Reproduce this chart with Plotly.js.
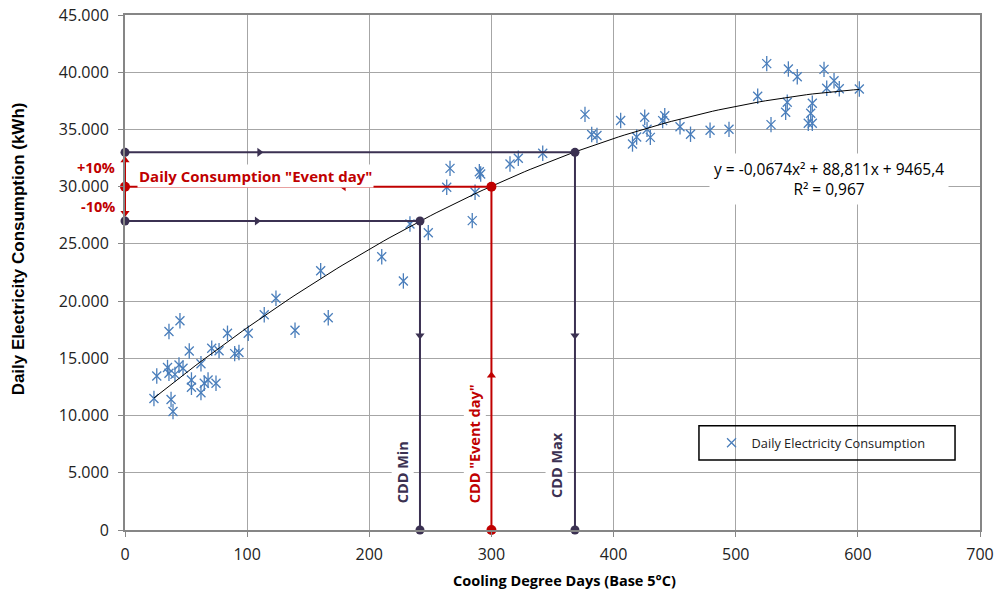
<!DOCTYPE html>
<html>
<head>
<meta charset="utf-8">
<script src="https://cdn.plot.ly/plotly-3.0.1.min.js"></script>
<style>html,body{margin:0;padding:0;background:#fff;}#chart{width:995px;height:593px;}</style>
</head>
<body>
<div id="chart"></div>
<script>
// ---- Data ----
const cdd = [23.7, 26.0, 34.8, 36.0, 37.7, 39.3, 40.9, 44.2, 47.5, 36.0, 45.0, 52.6, 62.2, 54.4, 54.4, 62.2, 64.9, 68.0, 74.5, 71.0, 77.0, 83.9, 89.8, 93.3, 100.9, 114.0, 123.6, 139.2, 166.4,
  160.2, 210.2, 227.9, 233.3, 248.3, 263.4, 266.1, 284.3, 286.6, 290.1, 291.2, 315.2, 322.0,
  342.0, 376.6, 382.1, 386.4, 405.8, 415.5, 418.9, 425.5, 427.4, 430.1, 440.2, 441.9, 454.4, 463.0, 479.0, 494.5,
  518.0, 525.4, 528.9, 540.9, 542.2, 543.1, 550.4, 559.4, 562.7, 561.4, 562.7, 572.3, 574.5, 580.5, 584.8, 601.2];
const consumption = [11490, 13460, 14200, 13690, 11400, 10350, 13600, 14420, 14130, 17350, 18290, 15640, 14530, 13110, 12470, 12000, 12820, 13110, 12820, 15880, 15670, 17190, 15410, 15510, 17190, 18810, 20250, 17450, 18550,
  22660, 23880, 21760, 26740, 25980, 29950, 31600, 27030, 29510, 31310, 31110, 31980, 32480,
  32920, 36320, 34560, 34470, 35780, 33730, 34340, 36060, 35010, 34310, 35770, 36200, 35240, 34580, 34930, 35010,
  37900, 40750, 35420, 36500, 37370, 40280, 39610, 35540, 35540, 36410, 37290, 40250, 38600, 39260, 38560, 38530];
// Trendline coefficients as printed on the chart: y = a*x^2 + b*x + c
const trendCoef = [-0.0674, 88.811, 9465.4];
const trendLabel = ["y = -0,0674x\u00B2 + 88,811x + 9465,4", "R\u00B2 = 0,967"];
// Event-day construction
const eventCDD = 300;
const eventConsumption = 30000;
const upperConsumption = 33000;   // +10%
const lowerConsumption = 27000;   // -10%
const cddMin = 241.5;
const cddMax = 368.4;
const xTicks = [0, 100, 200, 300, 400, 500, 600, 700];
const yTicks = [0, 5000, 10000, 15000, 20000, 25000, 30000, 35000, 40000, 45000];

// ---- Styles ----
const BLUE = '#4A7EBB', DARK = '#3B3152', RED = '#C00000';
const FONT = 'Open Sans, Noto Sans, sans-serif';

// trendline sampled over the observed CDD range
const xMinData = Math.min(...cdd), xMaxData = Math.max(...cdd);
const trendX = [], trendY = [];
for (let i = 0; i <= 120; i++) {
  const x = xMinData + (xMaxData - xMinData) * i / 120;
  trendX.push(x);
  trendY.push(trendCoef[0] * x * x + trendCoef[1] * x + trendCoef[2]);
}

function seg(xs, ys, color) {
  return {x: xs, y: ys, type: 'scatter', mode: 'lines', line: {color: color, width: 2},
          showlegend: false, hoverinfo: 'skip', cliponaxis: false};
}
function pts(xs, ys, color, symbol, size) {
  return {x: xs, y: ys, type: 'scatter', mode: 'markers',
          marker: {color: color, symbol: symbol, size: size, line: {width: 0}},
          showlegend: false, hoverinfo: 'skip', cliponaxis: false};
}

const traces = [
  {x: cdd, y: consumption, type: 'scatter', mode: 'markers', name: 'Daily Electricity Consumption',
   marker: {symbol: 'x-thin-open', size: 9, color: BLUE, line: {color: BLUE, width: 1.3}}, showlegend: true},
  {x: cdd, y: consumption, type: 'scatter', mode: 'markers', showlegend: false, hoverinfo: 'skip',
   marker: {symbol: 'line-ns-open', size: 11, color: BLUE, line: {color: BLUE, width: 1.3}}},
  {x: trendX, y: trendY, type: 'scatter', mode: 'lines', line: {color: '#000', width: 1}, showlegend: false, hoverinfo: 'skip'},
  seg([0, cddMax], [upperConsumption, upperConsumption], DARK),
  seg([0, cddMin], [lowerConsumption, lowerConsumption], DARK),
  seg([cddMin, cddMin], [lowerConsumption, 0], DARK),
  seg([cddMax, cddMax], [upperConsumption, 0], DARK),
  seg([0, eventCDD], [eventConsumption, eventConsumption], RED),
  seg([eventCDD, eventCDD], [0, eventConsumption], RED),
  seg([0, 0], [lowerConsumption + 700, upperConsumption - 700], RED),
  // arrowheads
  pts([110, 108], [upperConsumption, lowerConsumption], DARK, 'triangle-right', 8),
  pts([cddMin, cddMax], [17000, 17000], DARK, 'triangle-down', 8),
  pts([179], [eventConsumption], RED, 'triangle-left', 8),
  pts([eventCDD, 0], [13500, upperConsumption - 700], RED, 'triangle-up', 8),
  pts([0], [lowerConsumption + 700], RED, 'triangle-down', 8),
  // end dots
  pts([0, 0, cddMin, cddMax, cddMin, cddMax], [upperConsumption, lowerConsumption, lowerConsumption, upperConsumption, 0, 0], DARK, 'circle', 9),
  pts([0, eventCDD, eventCDD], [eventConsumption, eventConsumption, 0], RED, 'circle', 10)
];

const axisCommon = {
  showgrid: true, gridcolor: '#A6A6A6', gridwidth: 1, zeroline: false,
  showline: true, linecolor: '#868686', linewidth: 2, mirror: true,
  ticks: 'outside', ticklen: 5, tickcolor: '#868686', tickwidth: 1,
  tickfont: {family: FONT, size: 16, color: '#222'}
};

const layout = {
  width: 995, height: 593,
  margin: {l: 125, r: 15, t: 15, b: 63},
  paper_bgcolor: '#fff', plot_bgcolor: '#fff',
  separators: ',.',
  showlegend: true,
  legend: {x: 0.686, y: 0.169, xanchor: 'left', yanchor: 'middle', bgcolor: 'rgba(0,0,0,0)',
           borderwidth: 0, font: {family: FONT, size: 12.8, color: '#222'}, itemwidth: 30},
  xaxis: Object.assign({}, axisCommon, {range: [0, 700], tickvals: xTicks, ticktext: xTicks.map(String), ticklabelstandoff: 4}),
  yaxis: Object.assign({}, axisCommon, {range: [0, 45000], tickvals: yTicks, tickformat: ',', ticklabelstandoff: 6}),
  shapes: [
    {type: 'rect', xref: 'paper', yref: 'paper', x0: 0.6713, x1: 0.9708, y0: 0.1359, y1: 0.2025,
     line: {color: '#000', width: 1.5}, fillcolor: 'rgba(0,0,0,0)'}
  ],
  annotations: [
    {xref: 'paper', yref: 'paper', x: -0.1251, y: 0.545, xanchor: 'center', yanchor: 'middle',
     text: '<b>Daily Electricity Consumption (kWh)</b>',
     textangle: -90, showarrow: false, font: {family: 'Liberation Sans, Arial, sans-serif', size: 17, color: '#000'}},
    {xref: 'paper', yref: 'paper', x: 0.5135, y: -0.0971, xanchor: 'center', yanchor: 'middle',
     text: '<b>Cooling Degree Days (Base 5°C)</b>',
     showarrow: false, font: {family: FONT, size: 14.5, color: '#000'}},
    {xref: 'x', yref: 'y', x: 576, y: 30710, text: trendLabel.join('<br>'), showarrow: false,
     bgcolor: '#fff', borderpad: 4, font: {family: FONT, size: 15.5, color: '#000'}},
    {xref: 'x', yref: 'y', x: 106.8, y: 30960, text: '<b>Daily Consumption "Event day"</b>', showarrow: false,
     bgcolor: '#fff', borderpad: 1, font: {family: FONT, size: 15, color: RED}},
    {xref: 'paper', yref: 'y', x: -0.009, y: upperConsumption - 1300, xanchor: 'right', text: '<b>+10%</b>', showarrow: false,
     font: {family: FONT, size: 14.5, color: RED}},
    {xref: 'paper', yref: 'y', x: -0.009, y: lowerConsumption + 1300, xanchor: 'right', text: '<b>-10%</b>', showarrow: false,
     font: {family: FONT, size: 14.5, color: RED}},
    {xref: 'x', yref: 'y', x: 227.4, y: 5020, text: '<b>CDD Min</b>', textangle: -90, showarrow: false,
     bgcolor: '#fff', borderpad: 1, font: {family: FONT, size: 14.5, color: DARK}},
    {xref: 'x', yref: 'y', x: 286, y: 7515, text: '<b>CDD "Event day"</b>', textangle: -90, showarrow: false,
     bgcolor: '#fff', borderpad: 1, font: {family: FONT, size: 14.5, color: RED}},
    {xref: 'x', yref: 'y', x: 352.9, y: 5680, text: '<b>CDD Max</b>', textangle: -90, showarrow: false,
     bgcolor: '#fff', borderpad: 1, font: {family: FONT, size: 14.5, color: DARK}}
  ]
};

Plotly.newPlot('chart', traces, layout, {displayModeBar: false, staticPlot: true});
</script>
</body>
</html>
